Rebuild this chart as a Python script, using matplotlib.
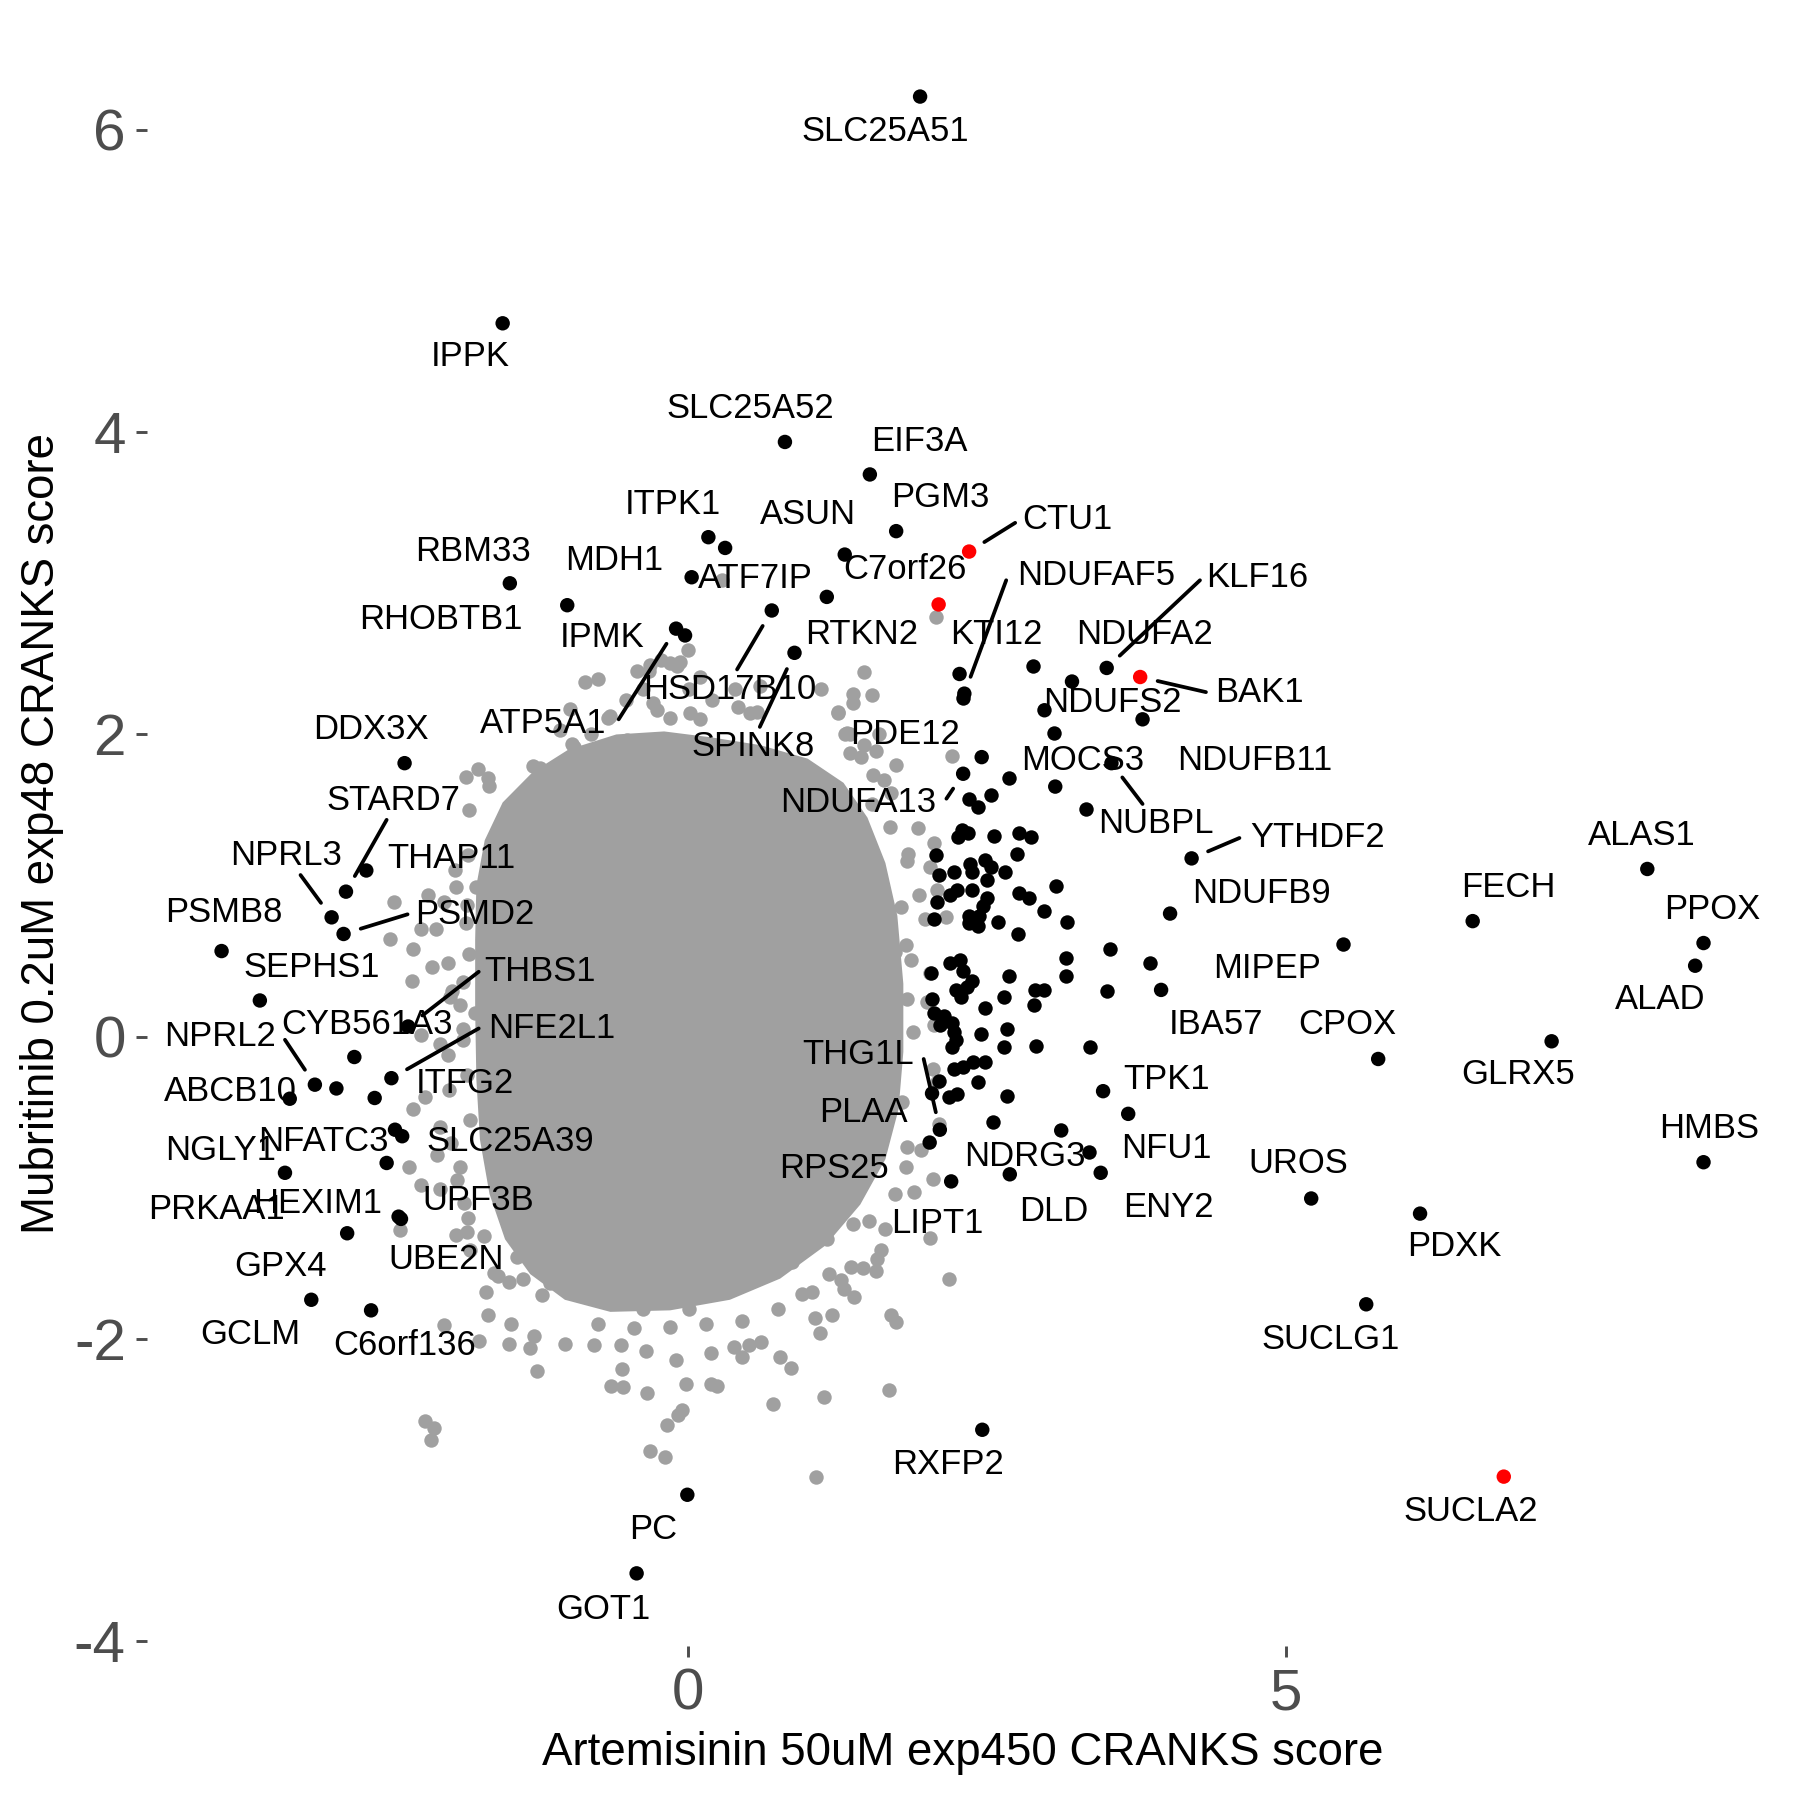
import matplotlib
matplotlib.use('Agg')
import matplotlib.pyplot as plt
from matplotlib.patches import Polygon

plt.rcParams['font.family'] = ['Liberation Sans', 'DejaVu Sans']
plt.rcParams['axes.unicode_minus'] = False

# labelled genes: name, x score, y score
genes = ['SLC25A51', 'IPPK', 'SLC25A52', 'EIF3A', 'PGM3', 'ITPK1', 'ATF7IP', 'ASUN', 'CTU1', 'MDH1',
         'RBM33', 'RHOBTB1', 'C7orf26', 'RTKN2', 'HSD17B10', 'ATP5A1', 'IPMK', 'SPINK8', 'KTI12', 'NDUFAF5',
         'NDUFA2', 'KLF16', 'BAK1', 'NDUFS2', 'NDUFB11', 'PDE12', 'NDUFA13', 'MOCS3', 'NUBPL', 'YTHDF2',
         'NDUFB9', 'ALAS1', 'FECH', 'PPOX', 'ALAD', 'MIPEP', 'CPOX', 'GLRX5', 'HMBS', 'IBA57',
         'TPK1', 'NFU1', 'NDRG3', 'DLD', 'ENY2', 'UROS', 'PDXK', 'SUCLG1', 'SUCLA2', 'RXFP2',
         'PC', 'GOT1', 'THG1L', 'PLAA', 'RPS25', 'LIPT1', 'DDX3X', 'STARD7', 'THAP11', 'NPRL3',
         'PSMD2', 'PSMB8', 'SEPHS1', 'THBS1', 'CYB561A3', 'NFE2L1', 'NPRL2', 'ABCB10', 'ITFG2', 'NFATC3',
         'SLC25A39', 'NGLY1', 'HEXIM1', 'UPF3B', 'UBE2N', 'PRKAA1', 'GPX4', 'GCLM', 'C6orf136']
gene_x = [1.94, -1.55, 0.81, 1.52, 1.74, 0.17, 0.31, 1.31, 2.35, 0.03,
          -1.49, -1.01, 2.095, 1.16, 0.70, -0.10, -0.025, 0.89, 2.27, 2.31,
          3.21, 3.50, 3.78, 2.98, 3.80, 2.455, 2.30, 3.07, 3.54, 4.21,
          4.03, 8.02, 6.56, 8.49, 8.42, 5.48, 5.77, 7.22, 8.49, 3.955,
          3.47, 3.68, 3.12, 2.69, 3.45, 5.21, 6.12, 5.67, 6.82, 2.46,
          -0.006, -0.43, 2.105, 2.04, 2.02, 2.20, -2.37, -2.86, -2.69, -2.98,
          -2.88, -3.90, -3.58, -2.34, -2.79, -2.48, -3.12, -3.33, -2.62, -2.45,
          -2.39, -3.37, -2.52, -2.42, -2.40, -2.94, -2.85, -3.15, -2.65]
gene_y = [6.22, 4.72, 3.935, 3.72, 3.345, 3.305, 3.234, 3.19, 3.21, 3.04,
          3.00, 2.855, 2.86, 2.91, 2.82, 2.70, 2.655, 2.54, 2.40, 2.27,
          2.35, 2.44, 2.38, 2.16, 2.10, 1.85, 1.74, 1.655, 1.81, 1.18,
          0.815, 1.11, 0.765, 0.62, 0.47, 0.61, -0.147, -0.03, -0.83, 0.31,
          -0.36, -0.51, -0.62, -0.91, -0.90, -1.07, -1.17, -1.77, -2.91, -2.60,
          -3.03, -3.55, -0.615, -0.375, -0.70, -0.957, 1.81, 0.96, 1.10, 0.79,
          0.68, 0.567, 0.24, 0.068, -0.134, -0.274, -0.317, -0.41, -0.405, -0.615,
          -0.658, -0.90, -0.835, -1.19, -1.205, -0.342, -1.30, -1.74, -1.81]
red_genes = ['CTU1', 'C7orf26', 'BAK1', 'SUCLA2']

# other significant genes (black, unlabelled)
sig_x = [2.88, 3.06, 2.68, 3.33, 2.53, 2.35, 2.42, 2.29, 2.34, 2.26, 2.555, 2.77, 2.87, 2.07, 2.75,
         2.22, 2.36, 2.37, 2.48, 2.53, 2.65, 2.10, 2.50, 3.08, 2.19, 2.25, 2.37, 2.50, 2.77, 2.85,
         2.08, 2.47, 2.98, 2.06, 2.35, 2.43, 2.35, 2.42, 2.59, 2.76, 3.17, 3.53, 3.16, 3.16, 3.86,
         3.50, 2.19, 2.27, 2.30, 2.37, 2.68, 2.24, 2.28, 2.33, 2.03, 2.04, 2.64, 2.90, 2.98, 2.89,
         2.48, 2.06, 2.14, 2.11, 2.21, 2.22, 2.24, 2.21, 2.45, 2.67, 2.64, 2.91, 3.36, 2.22, 2.30,
         2.38, 2.48, 2.42, 2.10, 2.18, 2.25, 2.67, 2.55, 3.35, 2.30]
sig_y = [2.45, 2.01, 1.71, 1.51, 1.60, 1.57, 1.52, 1.37, 1.345, 1.32, 1.33, 1.35, 1.32, 1.20, 1.21,
         1.09, 1.14, 1.09, 1.17, 1.12, 1.09, 1.07, 1.04, 1.00, 0.94, 0.97, 0.97, 0.92, 0.95, 0.92,
         0.89, 0.865, 0.83, 0.78, 0.80, 0.80, 0.75, 0.73, 0.757, 0.683, 0.757, 0.58, 0.52, 0.40, 0.485,
         0.30, 0.485, 0.51, 0.435, 0.37, 0.405, 0.31, 0.26, 0.33, 0.42, 0.25, 0.26, 0.31, 0.31, 0.21,
         0.19, 0.16, 0.14, 0.08, 0.09, 0.03, -0.02, -0.07, 0.02, 0.05, -0.066, -0.06, -0.066, -0.21, -0.20,
         -0.17, -0.17, -0.30, -0.29, -0.40, -0.38, -0.39, -0.565, -0.76, 2.24]

# background genes: outline of the dense core plus the scattered ones around it
core_x = [-1.77, -1.70, -1.55, -1.30, -1.00, -0.60, -0.20, 0.20, 0.60, 1.00, 1.30, 1.50, 1.65, 1.75, 1.80,
          1.80, 1.76, 1.65, 1.44, 1.15, 0.77, 0.35, -0.15, -0.65, -1.03, -1.32, -1.53, -1.66, -1.74, -1.77,
          -1.78, -1.78]
core_y = [1.00, 1.30, 1.55, 1.75, 1.90, 2.00, 2.02, 1.98, 1.93, 1.84, 1.68, 1.45, 1.15, 0.80, 0.35,
          -0.10, -0.48, -0.81, -1.11, -1.38, -1.60, -1.74, -1.81, -1.82, -1.74, -1.57, -1.34, -1.04, -0.68, -0.28,
          0.18, 0.64]
bg_x = [-0.86, -0.99, -0.97, -0.75, -1.07, -0.65, -0.62, -0.51, -0.29, -0.26, -0.15, 0.02, 0.10, 0.42, 0.52,
        0.60, 0.28, 0.00, -0.43, -0.32, -0.15, -0.07,
        -1.86, -1.76, -1.67, -1.66, -1.48, -1.32, -1.83, -1.24, -1.11, -1.21, -1.30, -1.15, -1.07, -0.90,
        -0.79, -0.68, -1.45, -1.37, -1.27,
        -0.38, -0.52, -0.67, -0.81, -0.95, -0.33, -0.23, -0.09, 0.01, 0.10, 0.20, 0.39, 0.58, -0.76,
        -0.91, -1.14,
        -1.94, -1.77, -1.85, -2.04, -2.17, -2.46, -2.49, -2.30, -2.23, -2.11, -2.31, -2.14, -2.01, -1.88,
        -1.91, -1.99, -1.78, -2.23, -2.07, -2.01, -1.88, -2.30, -2.20, -2.07, -1.98, -2.10, -1.91, -2.33,
        -2.23, -2.07,
        -1.84, -1.86, -1.83, -1.88, -1.85, -1.82, -1.87, -1.84, -1.95, -1.97, -2.00, -1.93,
        -2.41, -1.94, -1.85, -1.71, -2.04, -1.75, -1.50, -1.29, -1.32, -1.26, -2.20, -2.12, -2.15, -1.67,
        -1.48, -1.69, -1.59, -1.50, -1.38, -1.22, -1.15, -1.03, -0.79, -1.82, -1.62, -1.43, -1.27,
        1.65, 2.02, 1.61, 1.58, 2.18, 1.38, 1.51, 1.36, 1.46, 1.57, 1.18, 1.28, 1.30, 1.39, 1.04,
        1.06, 1.20, 1.10, 1.70, 1.74, 1.68, 1.14, 0.71, 0.77, 0.86, 1.07, -0.05, -0.08, -0.18, -0.32,
        -0.19, -0.02, 0.19, 0.24, -0.34, -0.64, -0.54, -0.55, -0.10, -0.35, -0.56, 0.19, 0.45, 0.38,
        0.61, 0.51, -0.75, -0.45, -0.15, 0.15, 0.45, 0.75, 0.95,
        1.16, 0.87, 0.39, 0.01, -0.38, -0.76, -1.15, -1.34,
        1.47, 1.38, 1.54, 1.25, 1.31, 1.47, 1.60, 1.57, 1.74, 1.55, 2.21, 1.70, 1.92, 2.06, 1.84,
        2.02, 2.08, 2.16, 1.98, 1.82, 1.86, 2.02, 2.00, 2.06, 2.05, 2.08, 2.10, 2.05, 1.82, 1.95,
        1.89, 2.07, 1.38, 1.33, 1.35,
        1.35, 1.45, 1.54, 1.69, 1.83, 1.93, 1.78, 1.64, 1.25, 1.11,
        1.73, 1.83, 1.88, 1.79, 1.83, 1.73]
bg_y = [2.35, 2.17, 1.94, 2.37, 2.03, 2.12, 1.93, 1.96, 2.21, 2.16, 2.11, 2.14, 2.10, 2.18, 2.14,
        2.32, 3.02, 2.56, 2.42, 2.46, 2.47, 2.48,
        1.72, 1.77, 1.71, 1.66, 1.51, 1.51, 1.50, 1.78, 1.70, 1.63, 1.79, 1.75, 1.70, 1.83,
        1.79, 1.81, 1.37, 1.27, 1.32,
        2.30, 2.23, 2.11, 2.00, 1.92, 2.42, 2.49, 2.45, 2.30, 2.38, 2.23, 2.30, 2.15, 1.85,
        1.70, 1.62,
        0.99, 0.99, 0.87, 0.89, 0.94, 0.89, 0.65, 0.58, 0.71, 0.71, 0.37, 0.46, 0.49, 0.36,
        0.21, 0.26, 0.16, 0.01, -0.05, -0.12, -0.02, -0.48, -0.40, -0.60, -0.70, -0.78, -0.86, -0.86,
        -0.98, -1.01,
        1.20, 0.75, 0.55, 0.05, -0.25, -0.55, -1.10, -1.20, 1.10, 0.30, -0.35, -0.95,
        -1.28, -1.31, -1.29, -1.32, -1.91, -2.01, -2.03, -1.98, -2.06, -2.21, -2.54, -2.59, -2.67, -1.84,
        -1.90, -1.69, -1.58, -1.62, -1.60, -1.71, -1.63, -2.03, -2.04, -1.41, -1.56, -1.46, -1.53,
        -1.27, -1.33, -1.41, -1.47, -1.60, -1.24, -1.22, -1.52, -1.53, -1.55, -1.57, -1.61, -1.67, -1.72, -1.69,
        -1.86, -1.84, -1.96, -1.84, -1.89, -2.34, -2.38, -2.43, -2.12, -2.19, -2.91, -2.47, -2.50, -2.57, -2.74,
        -2.78, -2.30, -2.30, -2.31, -2.36, -2.31, -2.32, -2.20, -2.14, -2.08, -2.04, -2.09, -2.12, -2.05,
        -2.02, -2.04, -1.90, -1.93, -1.92, -1.90, -1.88, -1.80, -1.70,
        -1.34, -1.49, -1.64, -1.80, -1.80, -1.72, -1.57, -1.34,
        2.41, 2.27, 2.26, 2.14, 2.00, 1.93, 2.00, 1.89, 1.80, 1.73, 1.86, 1.61, 1.38, 1.28, 1.21,
        1.12, 0.97, 0.79, 0.78, 0.61, 0.51, 0.42, 0.23, 0.08, -0.21, -0.30, -0.58, -0.94, -0.86, -0.75,
        -1.03, 2.78, 2.21, 2.01, 1.88,
        2.00, 1.85, 1.54, 1.39, 1.16, 0.94, 0.86, 1.70, 2.15, 2.30,
        0.56, 0.25, 0.03, -0.43, -0.73, -1.04]

# label placement (as laid out by the repel step in the original)
label_pos = {
    'SLC25A51': (1.65, 5.99), 'IPPK': (-1.82, 4.50), 'SLC25A52': (0.52, 4.155), 'EIF3A': (1.93, 3.94),
    'PGM3': (2.11, 3.57), 'ITPK1': (-0.13, 3.52), 'ASUN': (1.00, 3.455), 'CTU1': (3.17, 3.42),
    'C7orf26': (1.81, 3.09), 'NDUFAF5': (3.41, 3.05), 'KLF16': (4.76, 3.04), 'MDH1': (-0.62, 3.15),
    'RBM33': (-1.80, 3.21), 'RHOBTB1': (-2.07, 2.76), 'ATF7IP': (0.56, 3.03), 'IPMK': (-0.72, 2.64),
    'RTKN2': (1.455, 2.66), 'KTI12': (2.575, 2.66), 'NDUFA2': (3.82, 2.66), 'HSD17B10': (0.35, 2.295),
    'SPINK8': (0.546, 1.92), 'ATP5A1': (-1.21, 2.07), 'BAK1': (4.78, 2.28), 'NDUFS2': (3.55, 2.21),
    'PDE12': (1.81, 2.00), 'DDX3X': (-2.655, 2.03), 'MOCS3': (3.30, 1.83), 'NDUFB11': (4.74, 1.825),
    'NDUFA13': (1.42, 1.55), 'NUBPL': (3.91, 1.41), 'STARD7': (-2.46, 1.56), 'THAP11': (-1.98, 1.18),
    'NPRL3': (-3.36, 1.20), 'YTHDF2': (5.26, 1.315), 'ALAS1': (7.97, 1.33), 'PSMB8': (-3.88, 0.82),
    'PSMD2': (-1.78, 0.81), 'NDUFB9': (4.79, 0.95), 'FECH': (6.86, 0.99), 'PPOX': (8.56, 0.845),
    'SEPHS1': (-3.145, 0.455), 'THBS1': (-1.24, 0.435), 'MIPEP': (4.84, 0.45), 'ALAD': (8.13, 0.245),
    'CYB561A3': (-2.68, 0.08), 'NPRL2': (-3.91, 0.005), 'NFE2L1': (-1.14, 0.056), 'IBA57': (4.41, 0.084),
    'CPOX': (5.51, 0.084), 'GLRX5': (6.94, -0.25), 'THG1L': (1.42, -0.12), 'ABCB10': (-3.83, -0.36),
    'ITFG2': (-1.865, -0.31), 'TPK1': (4.00, -0.285), 'PLAA': (1.47, -0.50), 'NFATC3': (-3.05, -0.69),
    'SLC25A39': (-1.49, -0.69), 'NGLY1': (-3.91, -0.75), 'NFU1': (4.00, -0.74), 'NDRG3': (2.82, -0.79),
    'UROS': (5.10, -0.84), 'HMBS': (8.54, -0.61), 'RPS25': (1.22, -0.87), 'UPF3B': (-1.75, -1.08),
    'HEXIM1': (-3.10, -1.10), 'PRKAA1': (-3.94, -1.14), 'DLD': (3.055, -1.155), 'ENY2': (4.02, -1.13),
    'LIPT1': (2.08, -1.235), 'UBE2N': (-2.02, -1.475), 'GPX4': (-3.41, -1.52), 'PDXK': (6.41, -1.39),
    'GCLM': (-3.66, -1.97), 'C6orf136': (-2.37, -2.04), 'SUCLG1': (5.375, -2.00), 'RXFP2': (2.17, -2.83),
    'SUCLA2': (6.54, -3.14), 'PC': (-0.29, -3.26), 'GOT1': (-0.71, -3.79),
}
# where the connector leaves the label
segment_start = {
    'CTU1': (2.735, 3.40), 'NDUFAF5': (2.66, 3.02), 'KLF16': (4.28, 3.02), 'HSD17B10': (0.41, 2.43),
    'SPINK8': (0.60, 2.05), 'ATP5A1': (-0.58, 2.10), 'BAK1': (4.33, 2.28), 'NUBPL': (3.80, 1.54),
    'NDUFA13': (2.16, 1.575), 'YTHDF2': (4.61, 1.315), 'STARD7': (-2.52, 1.435), 'NPRL3': (-3.24, 1.07),
    'PSMD2': (-2.345, 0.81), 'THBS1': (-1.75, 0.43), 'NFE2L1': (-1.75, 0.055), 'NPRL2': (-3.37, -0.02),
    'THG1L': (1.97, -0.147),
}

fig = plt.figure(figsize=(6, 6), dpi=300)
ax = fig.add_axes([0.0819, 0.0856, 0.9057, 0.9019])

grey = '#A0A0A0'
ax.add_patch(Polygon(list(zip(core_x, core_y)), closed=True, facecolor=grey, edgecolor='none', zorder=1))
# beaded rim so the core edge reads as overlapping dots
ax.plot(core_x + core_x[:1], core_y + core_y[:1], color=grey, lw=3.4, linestyle=(0, (0, 1.6)),
        dash_capstyle='round', zorder=1)
ax.scatter(bg_x, bg_y, s=12, color=grey, linewidths=0, zorder=2)
ax.scatter(sig_x, sig_y, s=12, color='black', linewidths=0, zorder=3)

cols = ['red' if g in red_genes else 'black' for g in genes]
ax.scatter(gene_x, gene_y, s=12, c=cols, linewidths=0, zorder=3)

for g, gx, gy in zip(genes, gene_x, gene_y):
    lx, ly = label_pos[g]
    ax.text(lx, ly, g, ha='center', va='center', fontsize=8.3, color='black', zorder=5)
    if g in segment_start:
        ax.annotate('', xy=(gx, gy), xytext=segment_start[g],
                    arrowprops=dict(arrowstyle='-', color='black', lw=0.9, shrinkA=0, shrinkB=4.3),
                    zorder=4)

ax.set_xlim(-4.52, 9.11)
ax.set_ylim(-4.03, 6.71)
ax.set_xticks([0, 5])
ax.set_yticks([-4, -2, 0, 2, 4, 6])
for s in ax.spines.values():
    s.set_visible(False)
ax.tick_params(axis='both', length=2.7, width=0.7, color='#4D4D4D', labelcolor='#4D4D4D',
               labelsize=14, pad=2.5)

fig.text(0.5347, 0.0261, 'Artemisinin 50uM exp450 CRANKS score', ha='center', va='center', fontsize=10.95)
fig.text(0.0233, 0.5367, 'Mubritinib 0.2uM exp48 CRANKS score', ha='center', va='center',
         rotation=90, fontsize=10.95)

fig.savefig('out.png', dpi=300, facecolor='white')
